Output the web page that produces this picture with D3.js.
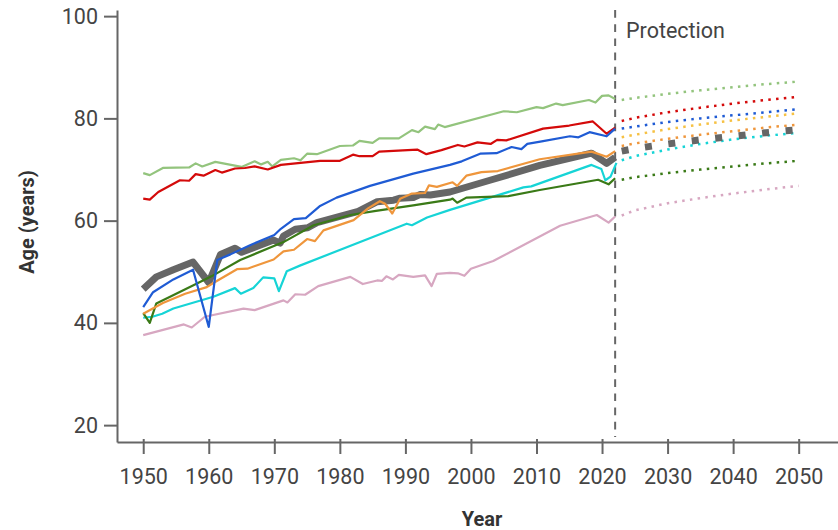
<!DOCTYPE html>
<html lang="en">
<head>
<meta charset="utf-8">
<title>Life expectancy</title>
<script type="text/javascript" src="https://d3js.org/d3.v7.min.js"></script>
<style>
body { margin: 0; background: #fff; }
svg { display: block; font-family: Roboto, "Noto Sans", sans-serif; }
.axis path, .axis line { stroke: #666; stroke-width: 2; }
.axis text { fill: #444; font-size: 21.5px; font-family: Roboto, "Noto Sans", sans-serif; }
.title { fill: #333; font-size: 20px; font-weight: bold; }
</style>
</head>
<body>
<div id="chart"></div>
<script type="text/javascript">

// historical series, [year, age]
var world = [[1950,46.6],[1952,49.0],[1954.6,50.4],[1957.6,51.9],[1960,47.9],[1961.8,53.4],[1964,54.6],[1965,53.8],[1969.9,56.2],[1970.9,55.6],[1971.4,57.0],[1973.2,58.3],[1975.1,58.6],[1976.5,59.6],[1982.8,61.8],[1985.7,63.7],[1988.2,64.0],[1989.2,64.4],[1991.2,64.5],[1992.2,65.1],[1993.8,65.0],[1996.8,65.6],[2002.9,67.9],[2010.5,70.8],[2018.4,73.2],[2020.7,71.2],[2022,72.4]];
var lightGreen = [[1950,69.3],[1951,68.9],[1953,70.3],[1957,70.4],[1958,71.2],[1959,70.6],[1961,71.5],[1965,70.5],[1967,71.6],[1968,71.0],[1969,71.5],[1969.7,70.6],[1971,71.9],[1973,72.2],[1974,71.8],[1975,73.1],[1976.5,73.0],[1980,74.6],[1982,74.7],[1983,75.6],[1985,75.2],[1986,76.1],[1989,76.1],[1991,77.7],[1992,77.3],[1993,78.4],[1994.5,77.9],[1995,78.8],[1996,78.3],[2005,81.4],[2007,81.2],[2010,82.2],[2011,82.0],[2013,82.9],[2014,82.6],[2018,83.6],[2019,83.1],[2020,84.4],[2021,84.5],[2022,83.8]];
var red = [[1950,64.3],[1951,64.1],[1952.3,65.6],[1955.6,67.9],[1957,67.8],[1958,69.1],[1959.2,68.8],[1961,69.9],[1962,69.4],[1964,70.2],[1965.5,70.3],[1967,70.6],[1969,70.0],[1971,70.9],[1977,71.7],[1980,71.7],[1982,72.9],[1983,72.6],[1985,72.6],[1986,73.5],[1991.8,73.9],[1993.2,73.0],[1995.5,73.8],[1998,74.8],[1999,74.5],[2001,75.3],[2003,75.0],[2004,75.8],[2005.4,75.7],[2011,78.0],[2015,78.6],[2018.6,79.4],[2020.7,77.0],[2022,78.2]];
var blue = [[1950,43.1],[1951.5,46.0],[1954.6,48.5],[1957.6,50.4],[1960,39.2],[1961.3,52.3],[1963.3,53.4],[1966.3,55.2],[1970,57.2],[1971,58.4],[1973,60.3],[1974.8,60.5],[1976.9,62.8],[1979.5,64.5],[1984.6,66.8],[1991.2,69.2],[1996.8,70.9],[1998.6,71.6],[2001.4,73.1],[2003.9,73.2],[2006.2,74.4],[2007.7,74.0],[2008.6,75.0],[2010.8,75.5],[2015.1,76.5],[2016.4,76.3],[2018.1,77.3],[2020.7,76.5],[2022,78.0]];
var orange = [[1950,41.8],[1953,43.9],[1956.4,45.7],[1959.7,47.0],[1960.7,47.8],[1964.3,50.5],[1965.9,50.6],[1969.9,52.4],[1971.4,54.0],[1973,54.3],[1975,56.4],[1976.2,56.0],[1977.5,58.1],[1982.1,60.1],[1984.3,62.4],[1986.1,63.8],[1986.9,63.3],[1988,61.4],[1989.2,64.3],[1991,65.3],[1993,65.4],[1993.6,66.9],[1994.8,66.6],[1997.2,67.5],[1997.9,66.8],[1999.3,68.8],[2001.6,69.5],[2004.1,69.7],[2010.5,72.0],[2018.4,73.5],[2020.7,72.5],[2022,73.6]];
var darkGreen = [[1950,41.9],[1951,40.0],[1952,43.8],[1958.2,47.7],[1960.4,49.1],[1964.8,52.3],[1971.4,55.8],[1976,59.1],[1981.6,61.1],[1985.5,61.9],[1991.2,63.0],[1996.8,64.1],[1997.2,64.3],[1997.9,63.5],[1999.3,64.5],[2005.7,64.8],[2010.5,66.0],[2019.4,68.0],[2021,67.1],[2022,68.3]];
var cyan = [[1950,41.0],[1951.4,41.2],[1952.9,41.8],[1954.6,42.8],[1960.7,45.1],[1964,46.8],[1964.9,45.7],[1966.8,46.8],[1968.3,48.9],[1970,48.7],[1970.7,46.2],[1971.9,50.1],[1973.9,51.2],[1990.2,59.4],[1991,59.1],[1993.3,60.6],[1996.8,62.1],[2008,66.5],[2009.2,66.7],[2018.4,70.9],[2019.9,70.1],[2020.5,67.9],[2021.3,68.6],[2022.2,71.3]];
var pink = [[1950,37.6],[1956.2,39.7],[1957.4,39.1],[1959.4,41.2],[1965.3,42.8],[1967,42.5],[1971.4,44.4],[1972,44.0],[1973.2,45.6],[1974.7,45.5],[1976.7,47.2],[1981.6,49.0],[1983.5,47.6],[1985.7,48.3],[1986.4,48.2],[1987.1,49.1],[1988.1,48.5],[1989,49.4],[1991.2,49.0],[1993,49.3],[1994,47.2],[1994.8,49.6],[1996.8,49.8],[1998,49.7],[1999,49.2],[2000,50.6],[2003.4,52.1],[2013.6,59.0],[2019.2,61.1],[2021,59.6],[2022,60.8]];

// projections
var projYears = [2023, 2025, 2030, 2035, 2040, 2045, 2050];
var projLightGreen = [83.6, 84.0, 84.8, 85.5, 86.1, 86.7, 87.2];
var projRed = [79.5, 80.1, 81.2, 82.1, 82.9, 83.6, 84.2];
var projBlue = [78.0, 78.4, 79.3, 80.0, 80.6, 81.2, 81.8];
var projYellow = [76.3, 76.8, 77.9, 78.8, 79.6, 80.3, 81.0];
var projOrange = [74.6, 75.1, 76.0, 76.8, 77.5, 78.2, 78.8];
var projWorld = [73.6, 74.1, 75.0, 75.8, 76.5, 77.2, 77.8];
var projCyan = [71.8, 72.6, 73.9, 75.0, 75.9, 76.6, 77.2];
var projDarkGreen = [68.0, 68.5, 69.3, 70.0, 70.6, 71.2, 71.7];
var projPink = [61.0, 62.0, 63.4, 64.4, 65.3, 66.1, 66.8];

var xTicks = [1950, 1960, 1970, 1980, 1990, 2000, 2010, 2020, 2030, 2040, 2050];
var yTicks = [20, 40, 60, 80, 100];
var cutYear = 2022;

var w = 838, h = 530;

var svg = d3.select("#chart").append("svg")
  .attr("width", w)
  .attr("height", h);

var x = d3.scaleLinear().domain([1946, 2056]).range([117, 838]);
var y = d3.scaleLinear().domain([16.7, 101.2]).range([442, 10]);

// axes
var gx = svg.append("g").attr("class", "axis")
  .attr("transform", "translate(0,442)")
  .call(d3.axisBottom(x).tickValues(xTicks).tickFormat(d3.format("d")).tickSizeOuter(0));
gx.selectAll(".tick line").attr("y1", -3).attr("y2", 12);
gx.selectAll(".tick text").attr("y", 42).attr("dy", null);

var gy = svg.append("g").attr("class", "axis")
  .attr("transform", "translate(117,0)")
  .call(d3.axisLeft(y).tickValues(yTicks).tickSize(13).tickSizeOuter(0));
gy.selectAll(".tick text").attr("x", -19);

svg.selectAll(".axis .domain").attr("stroke", "#666").attr("stroke-width", 2);

// separator between history and projection
svg.append("line")
  .attr("x1", x(cutYear)).attr("x2", x(cutYear))
  .attr("y1", 10).attr("y2", 437)
  .attr("stroke", "#666")
  .attr("stroke-width", 2)
  .attr("stroke-dasharray", "7.7,6.5");

svg.append("text")
  .attr("x", 626).attr("y", 38)
  .attr("fill", "#444")
  .style("font-size", "21.5px")
  .text("Protection");

var line = d3.line().x(function(d) { return x(d[0]); }).y(function(d) { return y(d[1]); });

var pastSeries = [
  {data: world, color: "#666666", width: 7},
  {data: lightGreen, color: "#93c47d", width: 2.2},
  {data: red, color: "#d40a0a", width: 2.2},
  {data: pink, color: "#d7a7c1", width: 2.2},
  {data: cyan, color: "#16d4d6", width: 2.2},
  {data: darkGreen, color: "#3a7a17", width: 2.2},
  {data: orange, color: "#ef963c", width: 2.2},
  {data: blue, color: "#1f5bd4", width: 2.2}
];

svg.append("g").selectAll("path")
  .data(pastSeries)
  .enter()
  .append("path")
  .attr("d", function(d) { return line(d.data); })
  .attr("fill", "none")
  .attr("stroke", function(d) { return d.color; })
  .attr("stroke-width", function(d) { return d.width; })
  .attr("stroke-linejoin", "round");

var projSeries = [
  {vals: projLightGreen, color: "#93c47d"},
  {vals: projRed, color: "#d40a0a"},
  {vals: projBlue, color: "#1f5bd4"},
  {vals: projYellow, color: "#f6c143"},
  {vals: projOrange, color: "#ef963c"},
  {vals: projCyan, color: "#16d4d6"},
  {vals: projDarkGreen, color: "#3a7a17"},
  {vals: projPink, color: "#d7a7c1"}
];

svg.append("g").selectAll("path")
  .data(projSeries)
  .enter()
  .append("path")
  .attr("d", function(d) { return line(projYears.map(function(yr, i) { return [yr, d.vals[i]]; })); })
  .attr("fill", "none")
  .attr("stroke", function(d) { return d.color; })
  .attr("stroke-width", 2.5)
  .attr("stroke-dasharray", "2.5,5.3");

svg.append("path")
  .attr("d", line(projYears.map(function(yr, i) { return [yr, projWorld[i]]; })))
  .attr("fill", "none")
  .attr("stroke", "#666")
  .attr("stroke-width", 7)
  .attr("stroke-dasharray", "7,16.6");

// axis titles
svg.append("text")
  .attr("class", "title")
  .attr("x", 482).attr("y", 526)
  .attr("text-anchor", "middle")
  .text("Year");

svg.append("text")
  .attr("class", "title")
  .attr("transform", "translate(34,222) rotate(-90)")
  .attr("text-anchor", "middle")
  .text("Age (years)");

</script>
</body>
</html>
